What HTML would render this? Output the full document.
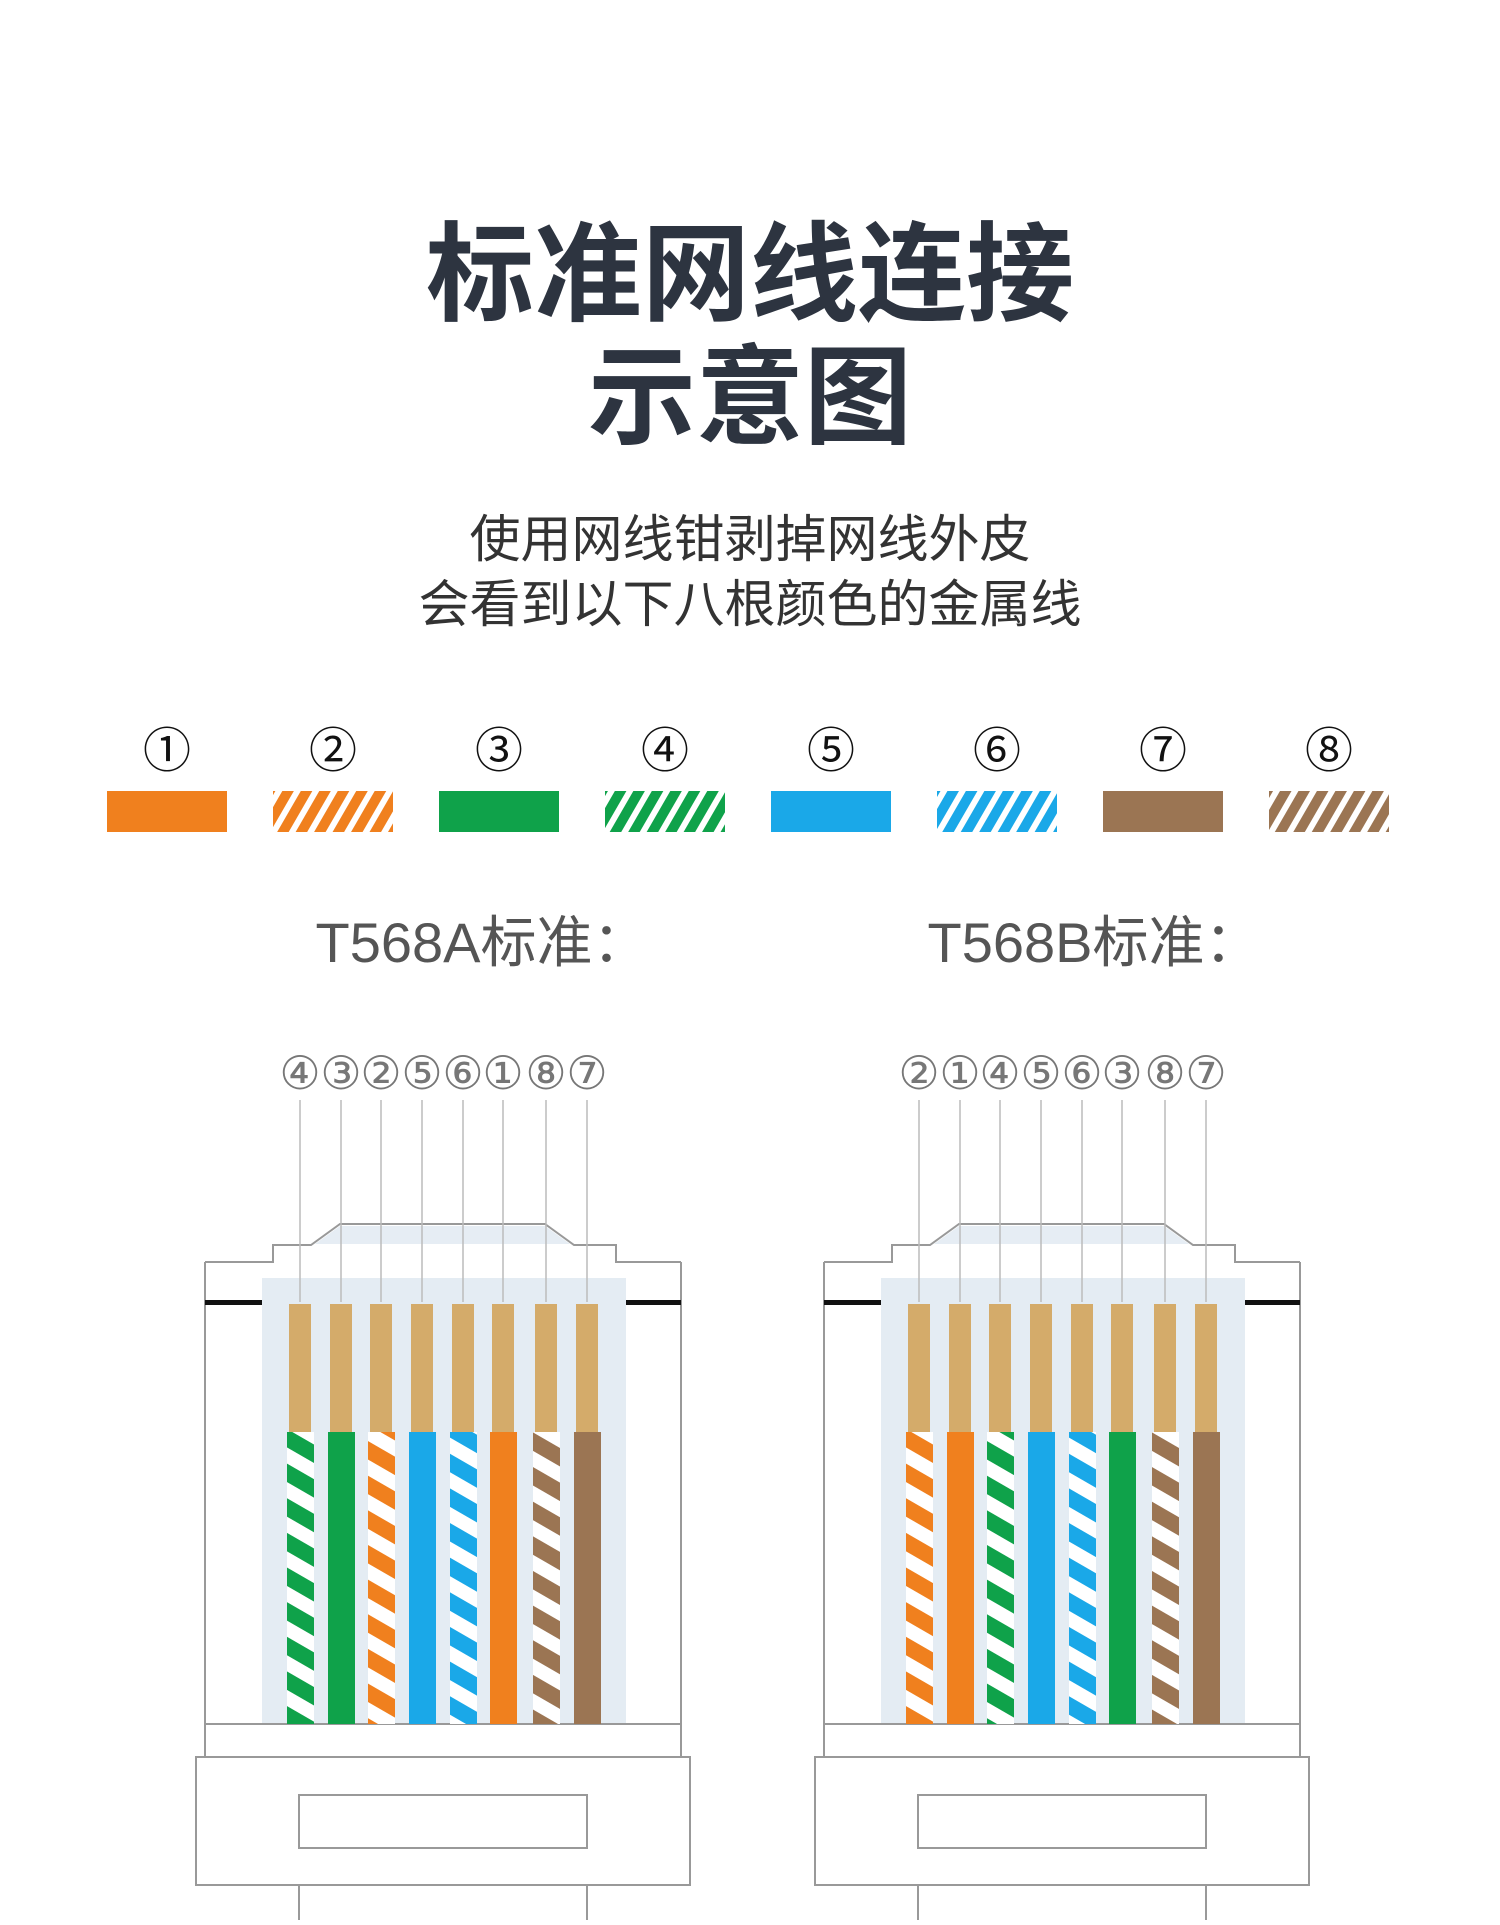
<!DOCTYPE html>
<html><head><meta charset="utf-8"><style>
html,body{margin:0;padding:0;background:#fff;}
body{width:1500px;height:1920px;overflow:hidden;}
</style></head><body>
<svg width="1500" height="1920" viewBox="0 0 1500 1920" xmlns="http://www.w3.org/2000/svg">
<defs>
<pattern id="bO" width="16" height="16" patternUnits="userSpaceOnUse" patternTransform="rotate(30)"><rect width="16" height="16" fill="#fff"/><rect width="10" height="16" fill="#f0801e"/></pattern>
<pattern id="bG" width="16" height="16" patternUnits="userSpaceOnUse" patternTransform="rotate(30)"><rect width="16" height="16" fill="#fff"/><rect width="10" height="16" fill="#0fa24a"/></pattern>
<pattern id="bB" width="16" height="16" patternUnits="userSpaceOnUse" patternTransform="rotate(30)"><rect width="16" height="16" fill="#fff"/><rect width="10" height="16" fill="#1aa8e8"/></pattern>
<pattern id="bN" width="16" height="16" patternUnits="userSpaceOnUse" patternTransform="rotate(30)"><rect width="16" height="16" fill="#fff"/><rect width="10" height="16" fill="#9b7553"/></pattern>
<pattern id="wO" width="30" height="30" patternUnits="userSpaceOnUse" patternTransform="rotate(-60)"><rect width="30" height="30" fill="#fff"/><rect width="16" height="30" fill="#f0801e"/></pattern>
<pattern id="wG" width="30" height="30" patternUnits="userSpaceOnUse" patternTransform="rotate(-60)"><rect width="30" height="30" fill="#fff"/><rect width="16" height="30" fill="#0fa24a"/></pattern>
<pattern id="wB" width="30" height="30" patternUnits="userSpaceOnUse" patternTransform="rotate(-60)"><rect width="30" height="30" fill="#fff"/><rect width="16" height="30" fill="#1aa8e8"/></pattern>
<pattern id="wN" width="30" height="30" patternUnits="userSpaceOnUse" patternTransform="rotate(-60)"><rect width="30" height="30" fill="#fff"/><rect width="16" height="30" fill="#9b7553"/></pattern>
<g id="conn">
  <line x1="205" y1="1262" x2="205" y2="1757" stroke="#999" stroke-width="2"/>
  <line x1="681" y1="1262" x2="681" y2="1757" stroke="#999" stroke-width="2"/>
  <polyline points="205,1262 273,1262 273,1245 311,1245 340,1224 545,1224 574,1245 616,1245 616,1262 681,1262" fill="none" stroke="#999" stroke-width="2"/>
  <polygon points="340,1226 545,1226 570,1244 315,1244" fill="#e6edf4"/>
  <rect x="262" y="1278" width="364" height="446" fill="#e4ecf3"/>
  <rect x="205" y="1300" width="57" height="5" fill="#111"/>
  <rect x="626" y="1300" width="55" height="5" fill="#111"/>
  <line x1="205" y1="1724" x2="681" y2="1724" stroke="#999" stroke-width="2"/>
  <line x1="205" y1="1757" x2="681" y2="1757" stroke="#999" stroke-width="2"/>
  <rect x="196" y="1757" width="494" height="128" fill="#fff" stroke="#999" stroke-width="2"/>
  <rect x="299" y="1795" width="288" height="53" fill="#fff" stroke="#999" stroke-width="2"/>
  <line x1="299" y1="1885" x2="299" y2="1920" stroke="#999" stroke-width="2"/>
  <line x1="587" y1="1885" x2="587" y2="1920" stroke="#999" stroke-width="2"/>
</g>
<g id="wires">
<g stroke="#bbb" stroke-width="1.5">
<line x1="300" y1="1100" x2="300" y2="1302"/><line x1="341" y1="1100" x2="341" y2="1302"/><line x1="381" y1="1100" x2="381" y2="1302"/><line x1="422" y1="1100" x2="422" y2="1302"/><line x1="463" y1="1100" x2="463" y2="1302"/><line x1="503" y1="1100" x2="503" y2="1302"/><line x1="546" y1="1100" x2="546" y2="1302"/><line x1="587" y1="1100" x2="587" y2="1302"/>
</g>
<g fill="#d4ab6a">
<rect x="289" y="1304" width="22" height="128"/><rect x="330" y="1304" width="22" height="128"/><rect x="370" y="1304" width="22" height="128"/><rect x="411" y="1304" width="22" height="128"/><rect x="452" y="1304" width="22" height="128"/><rect x="492" y="1304" width="22" height="128"/><rect x="535" y="1304" width="22" height="128"/><rect x="576" y="1304" width="22" height="128"/>
</g>
</g>
</defs>
<g font-family="Liberation Sans, Noto Sans CJK SC, sans-serif" text-anchor="middle">
<text x="750" y="312" font-size="108" font-weight="bold" fill="#2d3440">标准网线连接</text>
<text x="750" y="435" font-size="108" font-weight="bold" fill="#2d3440">示意图</text>
<text x="750" y="557" font-size="51" fill="#333">使用网线钳剥掉网线外皮</text>
<text x="750" y="622" font-size="51" fill="#333">会看到以下八根颜色的金属线</text>
<g font-size="48" fill="#111">
<text x="167" y="767">①</text><text x="333" y="767">②</text><text x="499" y="767">③</text><text x="665" y="767">④</text>
<text x="831" y="767">⑤</text><text x="997" y="767">⑥</text><text x="1163" y="767">⑦</text><text x="1329" y="767">⑧</text>
</g>
<text x="482" y="962" font-size="56" fill="#555">T568A标准：</text>
<text x="1094" y="962" font-size="56" fill="#555">T568B标准：</text>
</g>
<rect x="107" y="791" width="120" height="41" fill="#f0801e"/>
<rect x="273" y="791" width="120" height="41" fill="url(#bO)"/>
<rect x="439" y="791" width="120" height="41" fill="#0fa24a"/>
<rect x="605" y="791" width="120" height="41" fill="url(#bG)"/>
<rect x="771" y="791" width="120" height="41" fill="#1aa8e8"/>
<rect x="937" y="791" width="120" height="41" fill="url(#bB)"/>
<rect x="1103" y="791" width="120" height="41" fill="#9b7553"/>
<rect x="1269" y="791" width="120" height="41" fill="url(#bN)"/>

<use href="#conn"/>
<use href="#conn" transform="translate(619,0)"/>
<use href="#wires"/>
<use href="#wires" transform="translate(619,0)"/>

<g>
<g font-family="Liberation Serif, DejaVu Serif, serif" font-size="46" fill="#777" text-anchor="middle">
<text x="300" y="1089">④</text><text x="341" y="1089">③</text><text x="381" y="1089">②</text><text x="422" y="1089">⑤</text><text x="463" y="1089">⑥</text><text x="503" y="1089">①</text><text x="546" y="1089">⑧</text><text x="587" y="1089">⑦</text>
</g>
<rect x="287" y="1432" width="27" height="292" fill="url(#wG)"/>
<rect x="328" y="1432" width="27" height="292" fill="#0fa24a"/>
<rect x="368" y="1432" width="27" height="292" fill="url(#wO)"/>
<rect x="409" y="1432" width="27" height="292" fill="#1aa8e8"/>
<rect x="450" y="1432" width="27" height="292" fill="url(#wB)"/>
<rect x="490" y="1432" width="27" height="292" fill="#f0801e"/>
<rect x="533" y="1432" width="27" height="292" fill="url(#wN)"/>
<rect x="574" y="1432" width="27" height="292" fill="#9b7553"/>
</g>
<g transform="translate(619,0)">
<g font-family="Liberation Serif, DejaVu Serif, serif" font-size="46" fill="#777" text-anchor="middle">
<text x="300" y="1089">②</text><text x="341" y="1089">①</text><text x="381" y="1089">④</text><text x="422" y="1089">⑤</text><text x="463" y="1089">⑥</text><text x="503" y="1089">③</text><text x="546" y="1089">⑧</text><text x="587" y="1089">⑦</text>
</g>
<rect x="287" y="1432" width="27" height="292" fill="url(#wO)"/>
<rect x="328" y="1432" width="27" height="292" fill="#f0801e"/>
<rect x="368" y="1432" width="27" height="292" fill="url(#wG)"/>
<rect x="409" y="1432" width="27" height="292" fill="#1aa8e8"/>
<rect x="450" y="1432" width="27" height="292" fill="url(#wB)"/>
<rect x="490" y="1432" width="27" height="292" fill="#0fa24a"/>
<rect x="533" y="1432" width="27" height="292" fill="url(#wN)"/>
<rect x="574" y="1432" width="27" height="292" fill="#9b7553"/>
</g>
</svg>
</body></html>
